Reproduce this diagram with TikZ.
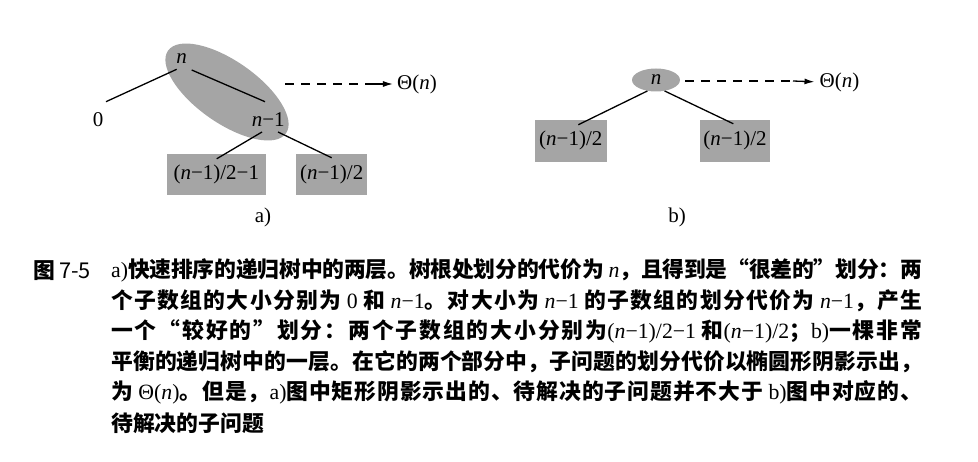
\documentclass[tikz,border=0pt]{standalone}
\usepackage{fontspec}
\setmainfont{Liberation Serif}
\newfontfamily\cjk{Noto Sans CJK SC}
\usetikzlibrary{calc,arrows.meta,shapes.geometric}
\definecolor{shade}{RGB}{165,165,165}
\newcommand\vn{{\rmfamily\mdseries\itshape n}}
\newcommand\lat[1]{{\rmfamily\mdseries #1}}
% inter-character glue for justified CJK lines
\newXeTeXintercharclass\cjkcls
\count255="4E00
\loop
  \XeTeXcharclass\count255=\cjkcls
  \advance\count255 by 1
\ifnum\count255<"A000 \repeat
\XeTeXcharclass"3001=\cjkcls
\XeTeXcharclass"3002=\cjkcls
\XeTeXcharclass"FF0C=\cjkcls
\XeTeXcharclass"FF1A=\cjkcls
\XeTeXcharclass"FF1B=\cjkcls
\XeTeXcharclass"201C=\cjkcls
\XeTeXcharclass"201D=\cjkcls
\XeTeXinterchartoks\cjkcls\cjkcls={\hskip0pt plus 6pt minus 1pt\relax}
\XeTeXinterchartoks\cjkcls 0={\hskip0pt plus 6pt minus 1pt\relax}
\XeTeXinterchartoks 0\cjkcls={\hskip0pt plus 6pt minus 1pt\relax}
\XeTeXinterchartokenstate=1
\begin{document}
\begin{tikzpicture}[x=1pt,y=-1pt,
  lab/.style={inner sep=0pt, font=\fontsize{21}{25}\selectfont},
  sbox/.style={fill=shade, inner sep=0pt, minimum height=41pt, font=\fontsize{21}{25}\selectfont},
  conn/.style={line width=1.3pt},
  dsh/.style={line width=1.1pt, dash pattern=on 9pt off 7pt},
  tip/.style={line width=1.3pt, -{Latex[length=10pt,width=6pt]}},
  capfont/.style={font=\cjk\bfseries\fontsize{21.8}{26}\selectfont},
  capline/.style={capfont, anchor=west, inner sep=0pt}]
\useasboundingbox (0,0) rectangle (978,462);
% ---------- a) ----------
\node[ellipse, fill=shade, minimum width=144pt, minimum height=62pt, rotate=-35, inner sep=0pt] (ea) at (227,92) {};
\node[lab] (na) at (181.7,58.3) {\textit{n}};
\node[lab] (zero) at (98,120) {0};
\node[lab] (nm1) at (268.3,119.3) {\textit{n}−1};
\node[sbox, minimum width=99.3pt] (ba1) at (216.3,174.5) {(\textit{n}−1)/2−1\hspace{12pt}};
\node[sbox, minimum width=71.3pt] (ba2) at (331.7,174.5) {(\textit{n}−1)/2};
\node[lab] (tha) at (417,84) {Θ(\textit{n})};
\node[lab] (capa) at (263,217) {a)};
\coordinate (da0) at (285,84);
\coordinate (da1) at (367,84);
\draw[conn] ($(na)+(-5,11)$) -- ($(zero)+(8,-18.3)$);
\draw[conn] ($(na)+(10,11.7)$) -- ($(nm1)+(-3.3,-17.6)$);
\draw[conn] ($(nm1)+(-6.3,12.7)$) -- ($(ba1.north)+(0.4,5)$);
\draw[conn] ($(nm1)+(9.7,12.7)$) -- ($(ba2.north)+(0,4)$);
\draw[dsh] (da0) -- (da1);
\draw[tip, shorten >=4pt] (da1) -- (tha.west);
% ---------- b) ----------
\node[ellipse, fill=shade, minimum width=48pt, minimum height=23pt, inner sep=0pt, font=\fontsize{21}{25}\selectfont] (eb) at (656,80) {\textit{n}};
\node[sbox, minimum width=71.7pt, minimum height=41.7pt] (bb1) at (570.8,140.8) {(\textit{n}−1)/2};
\node[sbox, minimum width=70pt, minimum height=41.7pt] (bb2) at (735,140.8) {(\textit{n}−1)/2};
\node[lab] (thb) at (839.5,82) {Θ(\textit{n})};
\node[lab] (capb) at (677,217) {b)};
\coordinate (db0) at (685,81);
\coordinate (db1) at (793,81);
\draw[conn] (eb.232) -- ($(bb1.north)+(7.5,5)$);
\draw[conn] (eb.308) -- ($(bb2.north)+(-1.7,4)$);
\draw[dsh] (db0) -- (db1);
\draw[tip, shorten >=5pt] (db1) -- (thb.west);
% ---------- caption ----------
\node[capline] (fig) at (33,270.5) {图\hspace{4pt}{\mdseries 7-5}};
\node[capline] (l1) at (111,270.5) {\makebox[811pt][s]{\lat{a)}快速排序的递归树中的两层。树根处划分的代价为 \vn，且得到是“很差的”划分：两}};
\node[capline] (l2) at (111,301) {\makebox[811pt][s]{个子数组的大小分别为 \lat{0} 和 \vn\lat{−1}。对大小为 \vn\lat{−1} 的子数组的划分代价为 \vn\lat{−1}，产生}};
\node[capline] (l3) at (111,331.5) {\makebox[811pt][s]{一个“较好的”划分：两个子数组的大小分别为\lat{(}\vn\lat{−1)/2−1} 和\lat{(}\vn\lat{−1)/2}；\lat{b)}一棵非常}};
\node[capline] (l4) at (111,362) {\makebox[811pt][s]{平衡的递归树中的一层。在它的两个部分中，子问题的划分代价以椭圆形阴影示出，}};
\node[capline] (l5) at (111,392.5) {\makebox[811pt][s]{为 \lat{Θ(}\vn\lat{)}。但是，\lat{a)}图中矩形阴影示出的、待解决的子问题并不大于 \lat{b)}图中对应的、}};
\node[capline] (l6) at (111,423) {待解决的子问题};
\end{tikzpicture}
\end{document}
